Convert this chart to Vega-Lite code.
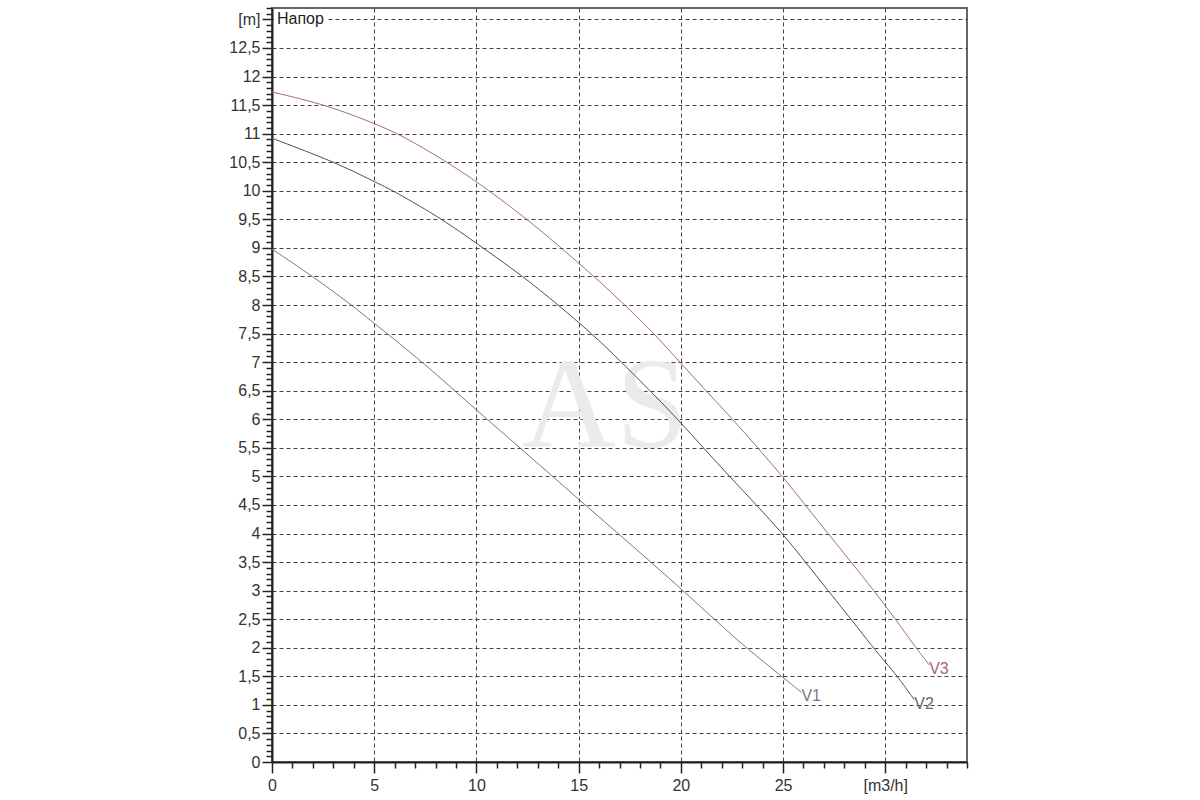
{
  "$schema": "https://vega.github.io/schema/vega-lite/v6.json",
  "width": 695,
  "height": 754,
  "padding": {"left": 228, "top": 0, "right": 5, "bottom": 5},
  "background": "white",
  "config": {
    "view": {"stroke": "#666666", "strokeWidth": 2},
    "font": "Liberation Sans"
  },
  "layer": [
    {
      "data": {"values": [{"x": 16.3, "y": 5.52, "t": "AS"}]},
      "mark": {"type": "text", "font": "Liberation Serif", "fontSize": 130, "color": "#ebebeb", "align": "center", "baseline": "alphabetic"},
      "encoding": {
        "x": {"field": "x", "type": "quantitative"},
        "y": {"field": "y", "type": "quantitative"},
        "text": {"field": "t"}
      }
    },
    {
      "data": {"values": [
        {"s": "V1", "x": 0, "y": 8.98}, {"s": "V1", "x": 2, "y": 8.5}, {"s": "V1", "x": 3.9, "y": 8.0}, {"s": "V1", "x": 5, "y": 7.68},
        {"s": "V1", "x": 7.45, "y": 6.98}, {"s": "V1", "x": 10, "y": 6.16}, {"s": "V1", "x": 12.2, "y": 5.48}, {"s": "V1", "x": 15, "y": 4.6},
        {"s": "V1", "x": 17, "y": 3.98}, {"s": "V1", "x": 20, "y": 3.04}, {"s": "V1", "x": 22, "y": 2.38}, {"s": "V1", "x": 23.2, "y": 2.0},
        {"s": "V1", "x": 25, "y": 1.48}, {"s": "V1", "x": 25.9, "y": 1.22},
        {"s": "V2", "x": 0, "y": 10.92}, {"s": "V2", "x": 3.1, "y": 10.5}, {"s": "V2", "x": 5, "y": 10.16}, {"s": "V2", "x": 6, "y": 9.99},
        {"s": "V2", "x": 8.35, "y": 9.5}, {"s": "V2", "x": 10, "y": 9.08}, {"s": "V2", "x": 12.3, "y": 8.5},
        {"s": "V2", "x": 14.0, "y": 8.0}, {"s": "V2", "x": 15.65, "y": 7.5}, {"s": "V2", "x": 17.1, "y": 7.0},
        {"s": "V2", "x": 18.5, "y": 6.5}, {"s": "V2", "x": 19.85, "y": 6.0}, {"s": "V2", "x": 21.1, "y": 5.5}, {"s": "V2", "x": 22.38, "y": 5.0},
        {"s": "V2", "x": 23.7, "y": 4.5}, {"s": "V2", "x": 24.98, "y": 4.0}, {"s": "V2", "x": 26.1, "y": 3.5}, {"s": "V2", "x": 27.2, "y": 3.0},
        {"s": "V2", "x": 28.33, "y": 2.5}, {"s": "V2", "x": 29.42, "y": 2.0}, {"s": "V2", "x": 30, "y": 1.75}, {"s": "V2", "x": 30.6, "y": 1.5},
        {"s": "V2", "x": 31.42, "y": 1.09},
        {"s": "V3", "x": 0, "y": 11.73}, {"s": "V3", "x": 2.7, "y": 11.5}, {"s": "V3", "x": 5, "y": 11.18}, {"s": "V3", "x": 6.3, "y": 10.98},
        {"s": "V3", "x": 8.5, "y": 10.52}, {"s": "V3", "x": 10, "y": 10.16}, {"s": "V3", "x": 11.0, "y": 9.9}, {"s": "V3", "x": 12.67, "y": 9.45},
        {"s": "V3", "x": 14.14, "y": 9.0}, {"s": "V3", "x": 15.77, "y": 8.5}, {"s": "V3", "x": 17.32, "y": 7.98},
        {"s": "V3", "x": 18.7, "y": 7.5}, {"s": "V3", "x": 19.95, "y": 7.0}, {"s": "V3", "x": 21.23, "y": 6.5}, {"s": "V3", "x": 22.54, "y": 6.0},
        {"s": "V3", "x": 23.76, "y": 5.5}, {"s": "V3", "x": 24.98, "y": 5.0}, {"s": "V3", "x": 26.08, "y": 4.5}, {"s": "V3", "x": 27.2, "y": 4.0},
        {"s": "V3", "x": 28.33, "y": 3.5}, {"s": "V3", "x": 29.45, "y": 3.0}, {"s": "V3", "x": 30.5, "y": 2.5}, {"s": "V3", "x": 31.5, "y": 2.0},
        {"s": "V3", "x": 32.15, "y": 1.7}
      ]},
      "mark": {"type": "line", "strokeWidth": 1, "interpolate": "basis"},
      "encoding": {
        "x": {
          "field": "x", "type": "quantitative",
          "scale": {"domain": [0, 34], "nice": false, "zero": true},
          "axis": {
            "title": null,
            "values": [0,1,2,3,4,5,6,7,8,9,10,11,12,13,14,15,16,17,18,19,20,21,22,23,24,25,26,27,28,29,30,31,32,33,34],
            "tickCount": 500,
            "labelExpr": "datum.value == 30 ? '[m3/h]' : ((datum.value % 5 == 0 && datum.value <= 25) ? format(datum.value, 'd') : '')",
            "labelOverlap": false,
            "labelFlush": false,
            "labelBound": false,
            "labelFont": "Liberation Sans",
            "labelFontSize": 16,
            "labelColor": "#333333",
            "labelPadding": 4,
            "domainColor": "#222222",
            "domainWidth": 2,
            "tickColor": "#222222",
            "tickWidth": 1.5,
            "tickSize": {"condition": {"test": "datum.value % 5 == 0", "value": 11}, "value": 6},
            "grid": true,
            "gridColor": "#444444",
            "gridDash": [4, 3],
            "gridWidth": 1,
            "gridOpacity": {"condition": {"test": "datum.value % 5 == 0 && datum.value <= 30 && datum.value > 0", "value": 1}, "value": 0}
          }
        },
        "y": {
          "field": "y", "type": "quantitative",
          "scale": {"domain": [0, 13.2], "nice": false, "zero": true},
          "axis": {
            "title": null,
            "values": [0,0.1,0.2,0.3,0.4,0.5,0.6,0.7,0.8,0.9,1,1.1,1.2,1.3,1.4,1.5,1.6,1.7,1.8,1.9,2,2.1,2.2,2.3,2.4,2.5,2.6,2.7,2.8,2.9,3,3.1,3.2,3.3,3.4,3.5,3.6,3.7,3.8,3.9,4,4.1,4.2,4.3,4.4,4.5,4.6,4.7,4.8,4.9,5,5.1,5.2,5.3,5.4,5.5,5.6,5.7,5.8,5.9,6,6.1,6.2,6.3,6.4,6.5,6.6,6.7,6.8,6.9,7,7.1,7.2,7.3,7.4,7.5,7.6,7.7,7.8,7.9,8,8.1,8.2,8.3,8.4,8.5,8.6,8.7,8.8,8.9,9,9.1,9.2,9.3,9.4,9.5,9.6,9.7,9.8,9.9,10,10.1,10.2,10.3,10.4,10.5,10.6,10.7,10.8,10.9,11,11.1,11.2,11.3,11.4,11.5,11.6,11.7,11.8,11.9,12,12.1,12.2,12.3,12.4,12.5,12.6,12.7,12.8,12.9,13,13.1,13.2],
            "tickCount": 500,
            "labelExpr": "datum.value == 13 ? '[m]' : (abs(datum.value * 2 - round(datum.value * 2)) < 0.01 ? replace(format(datum.value, '~g'), '.', ',') : '')",
            "labelOverlap": false,
            "labelFlush": false,
            "labelBound": false,
            "labelFont": "Liberation Sans",
            "labelFontSize": 16,
            "labelColor": "#333333",
            "labelPadding": 2,
            "domainColor": "#222222",
            "domainWidth": 2,
            "tickColor": "#222222",
            "tickWidth": 1.5,
            "tickSize": {"condition": {"test": "abs(datum.value * 2 - round(datum.value * 2)) < 0.01", "value": 10}, "value": 6},
            "grid": true,
            "gridColor": "#444444",
            "gridDash": [4, 3],
            "gridWidth": 1,
            "gridOpacity": {"condition": {"test": "abs(datum.value * 2 - round(datum.value * 2)) < 0.01 && datum.value > 0.01 && datum.value < 13.1", "value": 1}, "value": 0}
          }
        },
        "color": {
          "field": "s", "type": "nominal",
          "scale": {"domain": ["V1", "V2", "V3"], "range": ["#787878", "#505050", "#a06e7c"]},
          "legend": null
        }
      }
    },
    {
      "data": {"values": [
        {"s": "V1", "x": 25.9, "y": 1.22},
        {"s": "V2", "x": 31.42, "y": 1.09},
        {"s": "V3", "x": 32.15, "y": 1.7}
      ]},
      "mark": {"type": "text", "font": "Liberation Sans", "fontSize": 16, "align": "left", "baseline": "middle", "dy": 4},
      "encoding": {
        "x": {"field": "x", "type": "quantitative"},
        "y": {"field": "y", "type": "quantitative"},
        "text": {"field": "s"},
        "color": {
          "field": "s", "type": "nominal",
          "scale": {"domain": ["V1", "V2", "V3"], "range": ["#7a7a7a", "#6a6a6a", "#a0687a"]},
          "legend": null
        }
      }
    },
    {
      "data": {"values": [{"x": 0.1, "x2": 2.75, "y": 12.86, "y2": 13.14}]},
      "mark": {"type": "rect", "color": "white"},
      "encoding": {
        "x": {"field": "x", "type": "quantitative"},
        "x2": {"field": "x2"},
        "y": {"field": "y", "type": "quantitative"},
        "y2": {"field": "y2"}
      }
    },
    {
      "data": {"values": [{"x": 0, "y": 13, "t": "Напор"}]},
      "mark": {"type": "text", "font": "Liberation Sans", "fontSize": 16, "align": "left", "baseline": "middle", "dx": 5, "color": "#222222"},
      "encoding": {
        "x": {"field": "x", "type": "quantitative"},
        "y": {"field": "y", "type": "quantitative"},
        "text": {"field": "t"}
      }
    }
  ],
  "resolve": {"scale": {"color": "independent"}}
}
